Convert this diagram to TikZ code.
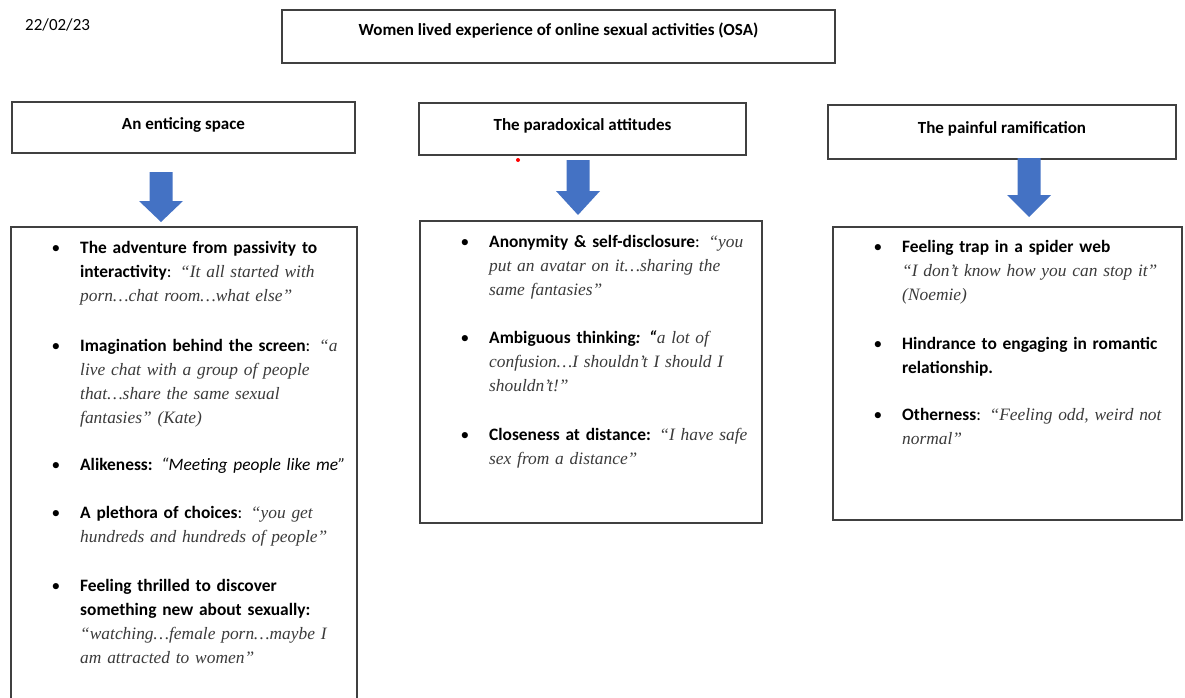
\documentclass[tikz,border=0pt]{standalone}
\usepackage{fontspec}
\setmainfont{Carlito}
\newfontfamily\quotefont{Liberation Serif}
\definecolor{arrowblue}{HTML}{4472C4}
\definecolor{boxgray}{HTML}{404040}
\definecolor{quotegray}{HTML}{3A3A3A}
\newcommand\qt[1]{{\quotefont\itshape\color{quotegray}#1}}
\newcommand\blt{\llap{\textbullet\hspace{20pt}}}
% block arrow: centre x, top, neck, tip
\newcommand\blockarrow[4]{%
  \fill[arrowblue] (#1-11.5,#2) -- (#1+11.5,#2) -- (#1+11.5,#3) -- (#1+22,#3)
    -- (#1,#4) -- (#1-22,#3) -- (#1-11.5,#3) -- cycle;}

\begin{document}
\begin{tikzpicture}[x=1pt, y=-1pt,
  headbox/.style={draw=boxgray, line width=1.3pt, font=\fontsize{17}{20}\selectfont\bfseries, text depth=8pt},
  listbox/.style={draw=boxgray, line width=1.3pt},
  bulletitem/.style={anchor=base west, text width=300pt, align=left, inner sep=0pt,
    font=\fontsize{17.4}{24}\selectfont}]
\useasboundingbox (0,0) rectangle (1185,698);
\clip (0,0) rectangle (1185,698);
%
\node[anchor=base west, inner sep=0pt, font=\fontsize{17}{20}\selectfont] (date) at (25,31) {22/02/23};
\node[headbox, minimum width=553pt, minimum height=53pt, text depth=15pt] (title) at (558.5,36.5)
  {Women lived experience of online sexual activities (OSA)};
%
\node[headbox, minimum width=343pt, minimum height=51pt] (space) at (183.5,127.5) {An enticing space};
\node[headbox, minimum width=327pt, minimum height=52pt] (paradox) at (582.5,129) {The paradoxical attitudes};
\node[headbox, minimum width=348pt, minimum height=54pt] (pain) at (1002,132) {The painful ramification};
\fill[red] (518,160) circle [radius=2pt];
%
\blockarrow{161}{172}{201}{222}
\blockarrow{578}{160}{191}{215}
\blockarrow{1029}{158}{195}{217}
%
\node[listbox, minimum width=346pt, minimum height=533pt] (spaceList) at (184,493.5) {};
\node[listbox, minimum width=342pt, minimum height=302pt] (paradoxList) at (591,372) {};
\node[listbox, minimum width=349pt, minimum height=293pt] (painList) at (1007.5,373.5) {};
%
\node[bulletitem] (space1) at (80,253) {\blt\textbf{The adventure from passivity to}\\
  \textbf{interactivity}: \qt{“It all started with}\\ \qt{porn…chat room…what else”}};
\node[bulletitem] (space2) at (80,351) {\blt\textbf{Imagination behind the screen}: \qt{“a}\\
  \qt{live chat with a group of people}\\ \qt{that…share the same sexual}\\ \qt{fantasies” (Kate)}};
\node[bulletitem] (space3) at (80,470.5) {\blt\textbf{Alikeness:} \textit{“Meeting people like me”}};
\node[bulletitem] (space4) at (80,518.5) {\blt\textbf{A plethora of choices}: \qt{“you get}\\
  \qt{hundreds and hundreds of people”}};
\node[bulletitem] (space5) at (80,591.5) {\blt\textbf{Feeling thrilled to discover}\\
  \textbf{something new about sexually:}\\ \qt{“watching…female porn…maybe I}\\ \qt{am attracted to women”}};
%
\node[bulletitem] (paradox1) at (489,247.5) {\blt\textbf{Anonymity \& self-disclosure}: \qt{“you}\\
  \qt{put an avatar on it…sharing the}\\ \qt{same fantasies”}};
\node[bulletitem] (paradox2) at (489,343.5) {\blt\textbf{Ambiguous thinking\textit{: “}}\qt{a lot of}\\
  \qt{confusion…I shouldn’t I should I}\\ \qt{shouldn’t!”}};
\node[bulletitem] (paradox3) at (489,440) {\blt\textbf{Closeness at distance:} \qt{“I have safe}\\
  \qt{sex from a distance”}};
%
\node[bulletitem] (pain1) at (902,252) {\blt\textbf{Feeling trap in a spider web}\\
  \qt{“I don’t know how you can stop it”}\\ \qt{(Noemie)}};
\node[bulletitem] (pain2) at (902,349) {\blt\textbf{Hindrance to engaging in romantic}\\
  \textbf{relationship.}};
\node[bulletitem] (pain3) at (902,420) {\blt\textbf{Otherness}: \qt{“Feeling odd, weird not}\\
  \qt{normal”}};
%%%%%%%%%%%%%%%%%%%%%%%%%%%%%%%
\end{tikzpicture}
\end{document}
